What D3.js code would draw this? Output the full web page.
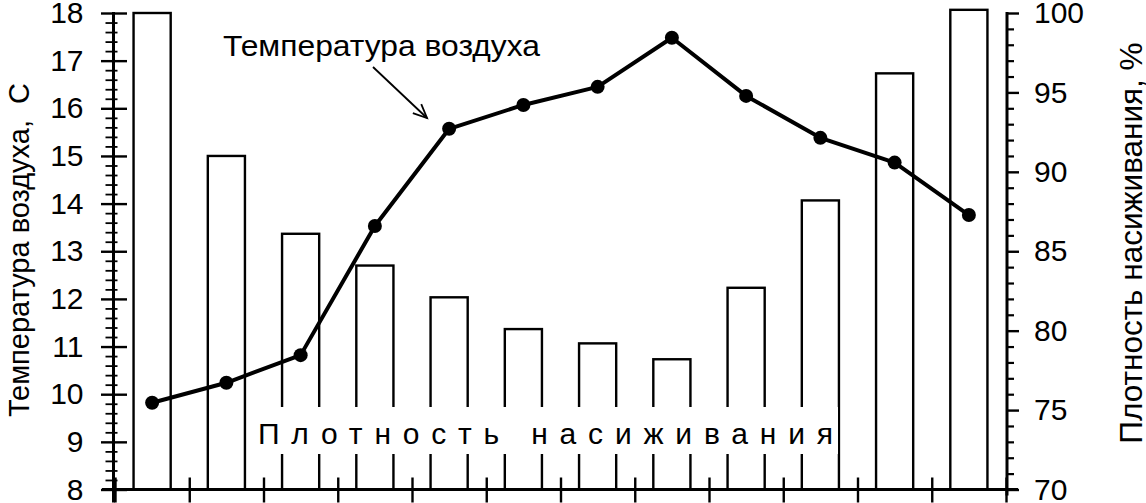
<!DOCTYPE html>
<html>
<head>
<meta charset="utf-8">
<script src="https://cdn.jsdelivr.net/npm/d3@7"></script>
<style>
  html, body { margin: 0; padding: 0; background: #fff; }
  svg { display: block; font-family: "Liberation Sans", Arial, Helvetica, sans-serif; }
</style>
</head>
<body>
<svg id="chart" width="1146" height="503"></svg>
<script>
// ---- data ----
const categories = ["1","2","3","4","5","6","7","8","9","10","11","12"];
const densityValues = [100, 91, 86.1, 84.1, 82.1, 80.1, 79.2, 78.2, 82.7, 88.2, 96.2, 100.2];
const temperatureValues = [9.82, 10.24, 10.82, 13.53, 15.57, 16.07, 16.45, 17.48, 16.26, 15.38, 14.86, 13.76];
const leftTicks = [8, 9, 10, 11, 12, 13, 14, 15, 16, 17, 18];
const rightTicks = [70, 75, 80, 85, 90, 95, 100];
const leftTitle = "Температура воздуха,  С";
const rightTitle = "Плотность насиживания, %";
const lineLabel = "Температура воздуха";
const barLabel = "Плотность насиживания";

// ---- layout ----
const svg = d3.select("#chart");
const plotTop = 13, plotBottom = 489.5, leftX = 113.5, rightX = 1007;

const x = d3.scaleBand().domain(categories).range([115, 1006]).paddingInner(0.5).paddingOuter(0.25);
const xEdge = d3.scaleLinear().domain([0, categories.length]).range([115, 1006]);
const yL = d3.scaleLinear().domain([8, 18]).range([plotBottom, plotTop]);
const yR = d3.scaleLinear().domain([70, 100]).range([plotBottom, plotTop]);

// bars
svg.append("g").selectAll("rect").data(densityValues).join("rect")
  .attr("x", (d, i) => x(categories[i]))
  .attr("width", x.bandwidth())
  .attr("y", d => yR(d))
  .attr("height", d => yR(70) - yR(d))
  .attr("fill", "#fff").attr("stroke", "#000").attr("stroke-width", 2.4);

// bar label with white box
const boxG = svg.append("g");
boxG.append("rect").attr("x", 247).attr("y", 407).attr("width", 591).attr("height", 47).attr("fill", "#fff");
boxG.append("text").attr("x", 258).attr("y", 444)
  .attr("font-size", 30).attr("textLength", 575).attr("lengthAdjust", "spacing")
  .text(barLabel);

// bottom axis
const gB = svg.append("g").attr("transform", `translate(0,${plotBottom})`);
gB.call(d3.axisBottom(xEdge).tickValues(d3.range(0, categories.length + 1)).tickFormat("").tickSizeOuter(0));
gB.select(".domain").remove();
gB.selectAll(".tick line").attr("y1", -12).attr("y2", 13).attr("stroke-width", 2.4);
gB.append("line").attr("x1", 102).attr("x2", 1018).attr("stroke", "#000").attr("stroke-width", 3);

// left axis
const gL = svg.append("g").attr("transform", `translate(${leftX},0)`);
gL.append("line").attr("y1", plotTop - 1).attr("y2", plotBottom + 13).attr("stroke", "#000").attr("stroke-width", 3);
const minorL = d3.range(8, 18.001, 0.2).filter(v => Math.abs(v - Math.round(v)) > 0.01);
const gLm = gL.append("g").call(d3.axisLeft(yL).tickValues(minorL).tickFormat("").tickSizeOuter(0));
gLm.select(".domain").remove();
gLm.selectAll(".tick line").attr("x1", 4).attr("x2", -8).attr("stroke-width", 1.8);
const gLM = gL.append("g").call(d3.axisLeft(yL).tickValues(leftTicks).tickFormat(d3.format("d")).tickSizeOuter(0));
gLM.select(".domain").remove();
gLM.selectAll(".tick line").attr("x1", 13.5).attr("x2", -12.5).attr("stroke-width", 2.4);
gLM.selectAll(".tick text").attr("x", -30).attr("font-size", 30).attr("fill", "#000")
  .attr("font-family", "Liberation Sans, Arial, sans-serif");

// right axis
const gR = svg.append("g").attr("transform", `translate(${rightX},0)`);
gR.append("line").attr("y1", plotTop - 1).attr("y2", plotBottom + 6).attr("stroke", "#000").attr("stroke-width", 3);
const minorR = d3.range(70, 100.001, 1).filter(v => v % 5 !== 0);
const gRm = gR.append("g").call(d3.axisRight(yR).tickValues(minorR).tickFormat("").tickSizeOuter(0));
gRm.select(".domain").remove();
gRm.selectAll(".tick line").attr("x1", 0).attr("x2", 7).attr("stroke-width", 2.2);
const gRM = gR.append("g").call(d3.axisRight(yR).tickValues(rightTicks).tickFormat(d3.format("d")).tickSizeOuter(0));
gRM.select(".domain").remove();
gRM.selectAll(".tick line").attr("x1", 0).attr("x2", 12).attr("stroke-width", 2.4);
gRM.selectAll(".tick text").attr("x", 27).attr("font-size", 30).attr("fill", "#000")
  .attr("font-family", "Liberation Sans, Arial, sans-serif");

// line
const line = d3.line().x((d, i) => x(categories[i]) + x.bandwidth() / 2).y(d => yL(d));
svg.append("path").datum(temperatureValues).attr("d", line)
  .attr("fill", "none").attr("stroke", "#000").attr("stroke-width", 4).attr("stroke-linejoin", "round");
svg.append("g").selectAll("circle").data(temperatureValues).join("circle")
  .attr("cx", (d, i) => x(categories[i]) + x.bandwidth() / 2)
  .attr("cy", d => yL(d)).attr("r", 7).attr("fill", "#000");

// annotation
svg.append("text").attr("x", 223).attr("y", 56).attr("font-size", 29)
  .attr("textLength", 317).attr("lengthAdjust", "spacingAndGlyphs").text(lineLabel);
const ax1 = 373, ay1 = 67, ax2 = 427, ay2 = 118;
svg.append("line").attr("x1", ax1).attr("y1", ay1).attr("x2", ax2).attr("y2", ay2)
  .attr("stroke", "#000").attr("stroke-width", 1.8);
const ang = Math.atan2(ay2 - ay1, ax2 - ax1);
const hl = 15, ha = 0.42;
svg.append("path")
  .attr("d", `M${ax2 - hl * Math.cos(ang - ha)},${ay2 - hl * Math.sin(ang - ha)} L${ax2},${ay2} L${ax2 - hl * Math.cos(ang + ha)},${ay2 - hl * Math.sin(ang + ha)}`)
  .attr("fill", "none").attr("stroke", "#000").attr("stroke-width", 1.8);

// axis titles
svg.append("text").attr("transform", "translate(29,250) rotate(-90)")
  .attr("text-anchor", "middle").attr("font-size", 29)
  .style("white-space", "pre").text(leftTitle);
svg.append("text").attr("transform", "translate(1142,243) rotate(-90)")
  .attr("text-anchor", "middle").attr("font-size", 31.5).text(rightTitle);
</script>
</body>
</html>
